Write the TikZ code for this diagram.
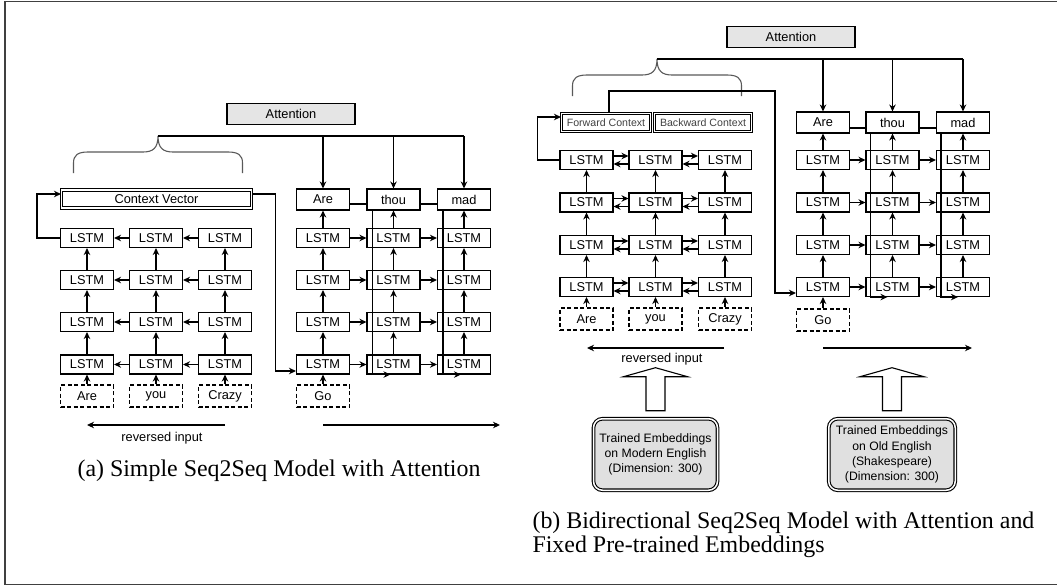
\documentclass[tikz,border=0pt]{standalone}
\usepackage{fontspec}
\setmainfont{Liberation Serif}
\setsansfont{Liberation Sans}
\usetikzlibrary{arrows.meta, positioning, calc}

\newcommand\boxfont{\sffamily\fontsize{12.8}{14}\selectfont}
\newcommand\ctxfont{\sffamily\fontsize{10.6}{12}\selectfont}
\newcommand\capfont{\rmfamily\fontsize{23.9}{24}\selectfont}

\begin{document}
\begin{tikzpicture}[x=1pt, y=-1pt, line width=1.1pt, >={Stealth[length=7pt,width=6.5pt]},
  lstm/.style={draw, minimum width=53pt, minimum height=19pt, inner sep=0pt, font=\boxfont},
  word/.style={lstm, fill=white, minimum height=21pt},
  inp/.style={lstm, dash pattern=on 4pt off 2.5pt, minimum height=22pt},
  attn/.style={draw, fill=black!10, minimum width=128pt, minimum height=21pt, inner sep=0pt, font=\boxfont},
  ctx/.style={draw, double, double distance=1.3pt, minimum height=18pt, inner sep=0pt},
  emb/.style={draw, double, double distance=1.5pt, rounded corners=9pt, fill=black!12, minimum height=71.5pt, inner sep=0pt, align=center, font=\sffamily\fontsize{12.2}{15.2}\selectfont},
  lbl/.style={font=\boxfont, inner sep=0pt},
  capt/.style={font=\capfont, inner sep=0pt, anchor=base west},
  ctxbrace/.pic={\draw[black!65] (-84.5,37) -- (-84.5,27) .. controls (-84.5,19) and (-80,16) .. (-70,16) -- (-15,16) .. controls (-5,16) and (0,12) .. (0,0) .. controls (0,12) and (5,16) .. (15,16) -- (70,16) .. controls (80,16) and (84.5,19) .. (84.5,27) -- (84.5,37);},
  hollowup/.pic={\draw[fill=white] (-9.5,0) -- (-9.5,-34) -- (-32,-34) -- (0,-43) -- (32,-34) -- (9.5,-34) -- (9.5,0) -- cycle;}
]
\useasboundingbox (0,0) rectangle (1057,586);
\draw[black!75, line width=1.3pt] (5,1.5) rectangle (1057.5,584.5);

% (a) simple seq2seq
\node[attn] (atta) at (291,114) {Attention};
\pic at (158,136) {ctxbrace};
\coordinate (tipa) at (158,136);
\node[ctx, minimum width=190pt, font=\boxfont] (ctxa) at (156.5,199) {Context Vector};
\foreach \c/\x/\lab in {1/87/Are,2/156/you,3/225/Crazy} {
  \node[inp] (ia-\c) at (\x,396) {\lab};
  \foreach \r/\y in {1/238,2/280,3/322,4/364.5}
    \node[lstm] (ea-\c-\r) at (\x,\y) {LSTM};
}
\foreach \c/\x/\lab in {1/323/Are,2/393.5/thou,3/464/mad} {
  \node[word] (wa-\c) at (\x,199.5) {\lab};
  \foreach \r/\y in {1/238,2/280,3/322,4/364.5}
    \node[lstm] (da-\c-\r) at (\x,\y) {LSTM};
}
\node[inp] (goa) at (323,396) {Go};

\draw (tipa) -- (tipa -| wa-3);
\foreach \c in {1,2,3} {
  \draw[->] (tipa -| wa-\c) -- (wa-\c);
  \draw[->] (ia-\c) -- (ea-\c-4);
  \draw[->] (da-\c-1) -- (wa-\c);
  \foreach \r/\s in {1/2,2/3,3/4} {
    \draw[->] (ea-\c-\s) -- (ea-\c-\r);
    \draw[->] (da-\c-\s) -- (da-\c-\r);
  }
}
\foreach \c/\d in {1/2,2/3} {
  \foreach \r in {1,...,4} {
    \draw[->] (ea-\d-\r) -- (ea-\c-\r);
    \draw[->] (da-\c-\r) -- (da-\d-\r);
  }
  \draw ([yshift=-4.5pt]wa-\c.east) -- ([yshift=-4.5pt]wa-\d.west);
  \draw[->] ([xshift=6pt]wa-\d.south west) -- ([xshift=6pt]da-\d-4.south west) -- ([xshift=24pt]da-\d-4.south west);
}
\draw[->] (goa) -- (da-1-4);
\draw[->] (ea-1-1.west) -- ++(-23,0) |- ([yshift=5pt]ctxa.west);
\draw[->] ([yshift=5pt]ctxa.east) -- ++(23,0) |- ([yshift=-6.5pt]da-1-4.west);

\coordinate (ra-r) at (225,425);
\coordinate (ra-l) at (87,425);
\draw[->] (ra-r) -- (ra-l);
\node[lbl] (reva) at (162,438) {reversed input};
\coordinate (fa-l) at (323,425);
\coordinate (fa-r) at (500,425);
\draw[->] (fa-l) -- (fa-r);
\node[capt] (capa) at (77,476) {(a) Simple Seq2Seq Model with Attention};

% (b) bidirectional seq2seq
\node[attn] (attb) at (791,37) {Attention};
\pic at (657,59) {ctxbrace};
\coordinate (tipb) at (657,59);
\node[ctx, minimum width=89pt, font=\ctxfont, text=black!75] (fwdb) at (606,122.5) {Forward Context};
\node[ctx, minimum width=97pt, font=\ctxfont, text=black!75] (bwdb) at (703,122.5) {Backward Context};
\foreach \c/\x/\lab in {1/586.5/Are,2/655.5/you,3/725/Crazy} {
  \node[inp] (ib-\c) at (\x,319) {\lab};
  \foreach \r/\y in {1/160,2/202.5,3/245,4/287}
    \node[lstm] (eb-\c-\r) at (\x,\y) {LSTM};
}
\foreach \c/\x/\lab in {1/823/Are,2/892.5/thou,3/963/mad} {
  \node[word] (wb-\c) at (\x,122.5) {\lab};
  \foreach \r/\y in {1/160,2/202.5,3/245,4/287}
    \node[lstm] (db-\c-\r) at (\x,\y) {LSTM};
}
\node[inp] (gob) at (823,320) {Go};

\draw (tipb) -- (tipb -| wb-3);
\foreach \c in {1,2,3} {
  \draw[->] (tipb -| wb-\c) -- (wb-\c);
  \draw[->] (ib-\c) -- (eb-\c-4);
  \draw[->] (db-\c-1) -- (wb-\c);
  \foreach \r/\s in {1/2,2/3,3/4} {
    \draw[->] (eb-\c-\s) -- (eb-\c-\r);
    \draw[->] (db-\c-\s) -- (db-\c-\r);
  }
}
\foreach \c/\d in {1/2,2/3} {
  \foreach \r in {1,...,4} {
    \draw[->] ([yshift=4pt]eb-\c-\r.east) -- ([yshift=4pt]eb-\d-\r.west);
    \draw[->] ([yshift=-4pt]eb-\d-\r.west) -- ([yshift=-4pt]eb-\c-\r.east);
    \draw[->] (db-\c-\r) -- (db-\d-\r);
  }
  \draw ([yshift=-5.5pt]wb-\c.east) -- ([yshift=-5.5pt]wb-\d.west);
  \draw[->] ([xshift=5pt]wb-\d.south west) -- ([xshift=5pt]db-\d-4.south west) -- ([xshift=22pt]db-\d-4.south west);
}
\draw[->] (gob) -- (db-1-4);
\draw[->] (eb-1-1.west) -- ++(-22,0) |- ([yshift=5.5pt]fwdb.west);
\draw[->] ([xshift=3pt]fwdb.north) -- ++(0,-22) -- ++(166,0) |- ([yshift=-6pt]db-1-4.west);

\coordinate (rb-r) at (724,348);
\coordinate (rb-l) at (587,348);
\draw[->] (rb-r) -- (rb-l);
\node[lbl] (revb) at (662,359) {reversed input};
\coordinate (fb-l) at (823,348);
\coordinate (fb-r) at (972,348);
\draw[->] (fb-l) -- (fb-r);

\node[emb, minimum width=124pt] (embl) at (655.5,454.5) {Trained Embeddings\\on Modern English\\(Dimension: 300)};
\node[emb, minimum width=126.5pt] (embr) at (892,454.5) {Trained Embeddings\\on Old English\\(Shakespeare)\\(Dimension: 300)};
\pic at ($(embl.north)+(0,-7.5)$) {hollowup};
\pic at ($(embr.north)+(0,-7.5)$) {hollowup};

\node[capt] (capb1) at (532,528) {(b) Bidirectional Seq2Seq Model with Attention and};
\node[capt] (capb2) at (532,552) {Fixed Pre-trained Embeddings};
\end{tikzpicture}
\end{document}
